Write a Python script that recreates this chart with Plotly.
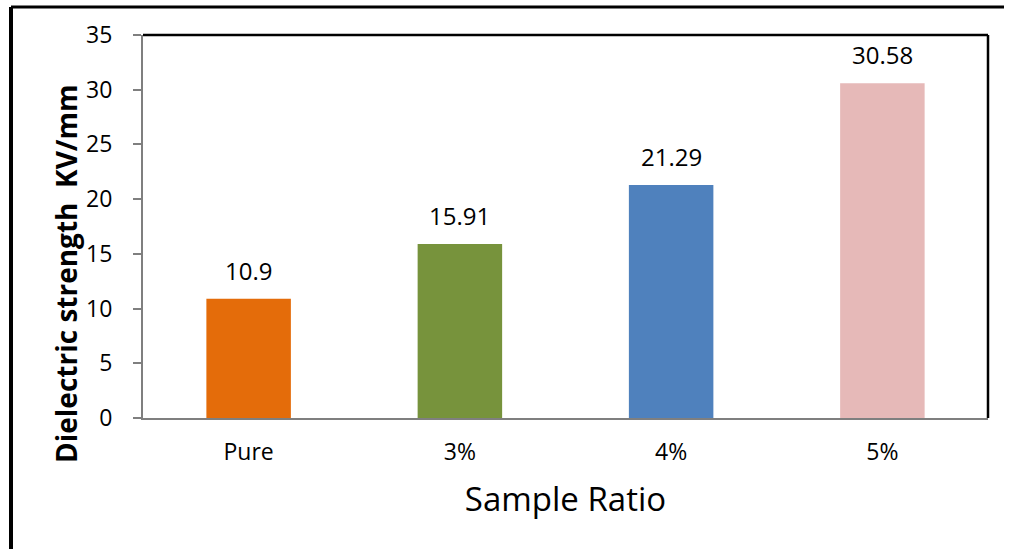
import plotly.graph_objects as go

categories = ["Pure", "3%", "4%", "5%"]
values = [10.9, 15.91, 21.29, 30.58]
labels = ["10.9", "15.91", "21.29", "30.58"]
colors = ["#E46C0A", "#77933C", "#4F81BD", "#E6B9B8"]
y_ticks = [0, 5, 10, 15, 20, 25, 30, 35]

FONT = "'Open Sans', 'Noto Sans', sans-serif"

fig = go.Figure()
fig.add_trace(go.Bar(
    x=categories, y=values, marker=dict(color=colors, line=dict(width=0)),
    width=0.4, showlegend=False, hoverinfo="skip",
))

for c, v, t in zip(categories, values, labels):
    fig.add_annotation(x=c, y=v, text=t, showarrow=False, yanchor="bottom",
                       yshift=10, font=dict(size=24, color="#000000", family=FONT))

L, R, T, B = 143, 21, 35, 131
W, H = 1009, 549
pw = W - L - R
ph = H - T - B

# y-axis title placed as rotated annotation (offset below plot centre as in reference)
fig.add_annotation(
    xref="paper", yref="paper", x=(66 - L) / pw, y=1 - (274 - T) / ph,
    xanchor="center", yanchor="middle", textangle=-90, showarrow=False,
    text="<b>Dielectric strength  KV/mm</b>", font=dict(size=28, color="#000000", family=FONT),
)

fig.update_layout(
    width=W, height=H,
    margin=dict(l=L, r=R, t=T, b=B, pad=0),
    paper_bgcolor="white", plot_bgcolor="white",
    font=dict(family=FONT, color="#000000"),
    xaxis=dict(
        showline=True, linecolor="#7F7F7F", linewidth=2, showgrid=False,
        ticks="", tickfont=dict(size=23), ticklabelstandoff=12,
        title=dict(text="Sample Ratio", font=dict(size=33), standoff=22),
    ),
    yaxis=dict(
        range=[0, 35], tickvals=y_ticks, showline=True, linecolor="#7F7F7F",
        linewidth=2, showgrid=False, ticks="outside", ticklen=8, tickcolor="#7F7F7F",
        tickwidth=1.5, tickfont=dict(size=23), ticklabelstandoff=16,
        zeroline=False,
    ),
    shapes=[
        # plot area top/right border
        dict(type="line", xref="paper", yref="paper", x0=0, x1=1, y0=1, y1=1,
             line=dict(color="black", width=2.5)),
        dict(type="line", xref="paper", yref="paper", x0=1, x1=1, y0=0, y1=1,
             line=dict(color="black", width=2.5)),
        # outer figure border
        dict(type="line", xref="paper", yref="paper",
             x0=(11 - L) / pw, x1=(11 - L) / pw, y0=-(B + 5) / ph, y1=1 + (T - 7) / ph,
             line=dict(color="black", width=4)),
        dict(type="line", xref="paper", yref="paper",
             x0=(11 - L) / pw, x1=(1004 - L) / pw, y0=1 + (T - 7) / ph, y1=1 + (T - 7) / ph,
             line=dict(color="black", width=3)),
    ],
)

fig.write_html("out.html", config={"displayModeBar": False},
               post_script="document.body.style.margin='0';")
